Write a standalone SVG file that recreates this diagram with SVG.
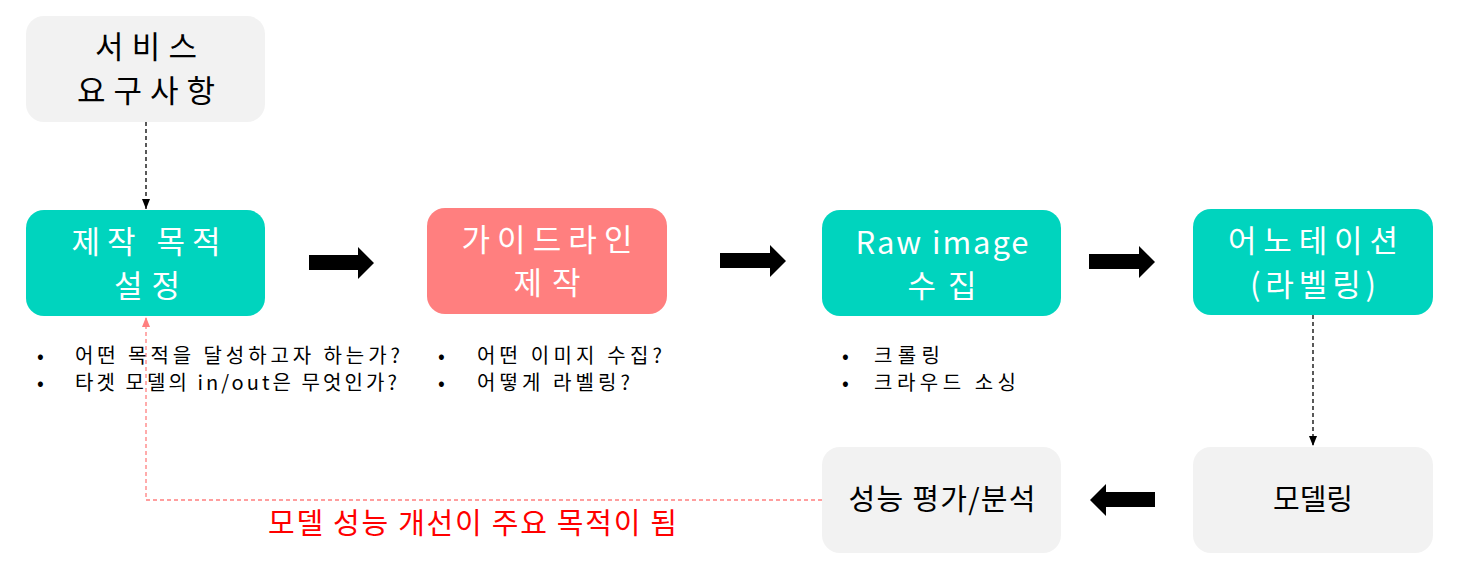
<svg xmlns="http://www.w3.org/2000/svg" width="1457" height="564" viewBox="0 0 1457 564">
<style>
text{font-family:"Noto Sans CJK KR","Malgun Gothic",sans-serif;}
.grey{fill:#f2f2f2;}
.teal{fill:#00d4be;}
.pink{fill:#ff7f7f;}
.big{font-size:31px;text-anchor:middle;}
.w{fill:#ffffff;}
.b{fill:#000000;}
.mid{font-size:29px;text-anchor:middle;fill:#000;}
.bul{font-size:20px;fill:#000;}
.blk{fill:#000;}
</style>
<defs>
<marker id="ab" viewBox="0 0 10 10" refX="10" refY="5" markerWidth="10" markerHeight="10" markerUnits="userSpaceOnUse" orient="auto"><path d="M0,1 L10,5 L0,9 z" fill="#000"/></marker>
<marker id="ar" viewBox="0 0 10 10" refX="10" refY="5" markerWidth="10" markerHeight="10" markerUnits="userSpaceOnUse" orient="auto"><path d="M0,1 L10,5 L0,9 z" fill="#ff7f7f"/></marker>
</defs>
<rect width="1457" height="564" fill="#ffffff"/>
<g id="connectors">
<line x1="146" y1="122" x2="146" y2="209" stroke="#000" stroke-width="1.3" stroke-dasharray="4,3" marker-end="url(#ab)"/>
<line x1="1313" y1="315" x2="1313" y2="446" stroke="#000" stroke-width="1.3" stroke-dasharray="4,3" marker-end="url(#ab)"/>
<polyline points="822,500 146,500 146,317" fill="none" stroke="#ff7f7f" stroke-width="1.3" stroke-dasharray="4,3" marker-end="url(#ar)"/>
<polygon class="blk" points="309,255 358,255 358,247 374,263 358,279 358,270 309,270"/>
<polygon class="blk" points="720,253 770,253 770,245 786,261 770,277 770,268 720,268"/>
<polygon class="blk" points="1089,254 1139,254 1139,246 1155,262 1139,278 1139,269 1089,269"/>
<polygon class="blk" points="1155,492 1106,492 1106,484 1090,500 1106,516 1106,507 1155,507"/>
</g>
<g id="n-service">
<rect class="grey" x="26" y="16" width="239" height="106" rx="18"/>
<text class="big b" x="146" y="58" textLength="102" lengthAdjust="spacing">서비스</text>
<text class="big b" x="146" y="102" textLength="138" lengthAdjust="spacing">요구사항</text>
</g>
<g id="n-purpose">
<rect class="teal" x="26" y="210" width="239" height="106" rx="18"/>
<text class="big w" x="146" y="253" textLength="149" lengthAdjust="spacing">제작 목적</text>
<text class="big w" x="147" y="297" textLength="66" lengthAdjust="spacing">설정</text>
</g>
<g id="n-guide">
<rect class="pink" x="427" y="208" width="240" height="106" rx="18"/>
<text class="big w" x="547" y="251" textLength="171" lengthAdjust="spacing">가이드라인</text>
<text class="big w" x="547" y="294" textLength="67" lengthAdjust="spacing">제작</text>
</g>
<g id="n-raw">
<rect class="teal" x="822" y="210" width="239" height="106" rx="18"/>
<text class="big w" x="942" y="254" textLength="173" lengthAdjust="spacing">Raw image</text>
<text class="big w" x="942" y="297" textLength="69" lengthAdjust="spacing">수집</text>
</g>
<g id="n-annot">
<rect class="teal" x="1193" y="209" width="240" height="106" rx="18"/>
<text class="big w" x="1313" y="252" textLength="170" lengthAdjust="spacing">어노테이션</text>
<text class="big w" x="1313" y="296" textLength="126" lengthAdjust="spacing">(라벨링)</text>
</g>
<g id="n-model">
<rect class="grey" x="1193" y="447" width="240" height="106" rx="18"/>
<text class="mid" x="1313" y="510" textLength="80" lengthAdjust="spacing">모델링</text>
</g>
<g id="n-eval">
<rect class="grey" x="822" y="447" width="239" height="106" rx="18"/>
<text class="mid" x="942" y="510" textLength="187" lengthAdjust="spacing">성능 평가/분석</text>
</g>
<g id="notes-purpose">
<text class="bul" x="37" y="363">•</text>
<text class="bul" x="75" y="363" textLength="325" lengthAdjust="spacing">어떤 목적을 달성하고자 하는가?</text>
<text class="bul" x="37" y="390">•</text>
<text class="bul" x="75" y="390" textLength="322" lengthAdjust="spacing">타겟 모델의 in/out은 무엇인가?</text>
</g>
<g id="notes-guide">
<text class="bul" x="438" y="363">•</text>
<text class="bul" x="477" y="363" textLength="185" lengthAdjust="spacing">어떤 이미지 수집?</text>
<text class="bul" x="438" y="390">•</text>
<text class="bul" x="477" y="390" textLength="153" lengthAdjust="spacing">어떻게 라벨링?</text>
</g>
<g id="notes-raw">
<text class="bul" x="842" y="363">•</text>
<text class="bul" x="874" y="363" textLength="66" lengthAdjust="spacing">크롤링</text>
<text class="bul" x="842" y="390">•</text>
<text class="bul" x="874" y="390" textLength="142" lengthAdjust="spacing">크라우드 소싱</text>
</g>
<g id="label-loop">
<text x="268" y="534" font-size="29" fill="#ff0000" textLength="409" lengthAdjust="spacing">모델 성능 개선이 주요 목적이 됨</text>
</g>
</svg>
